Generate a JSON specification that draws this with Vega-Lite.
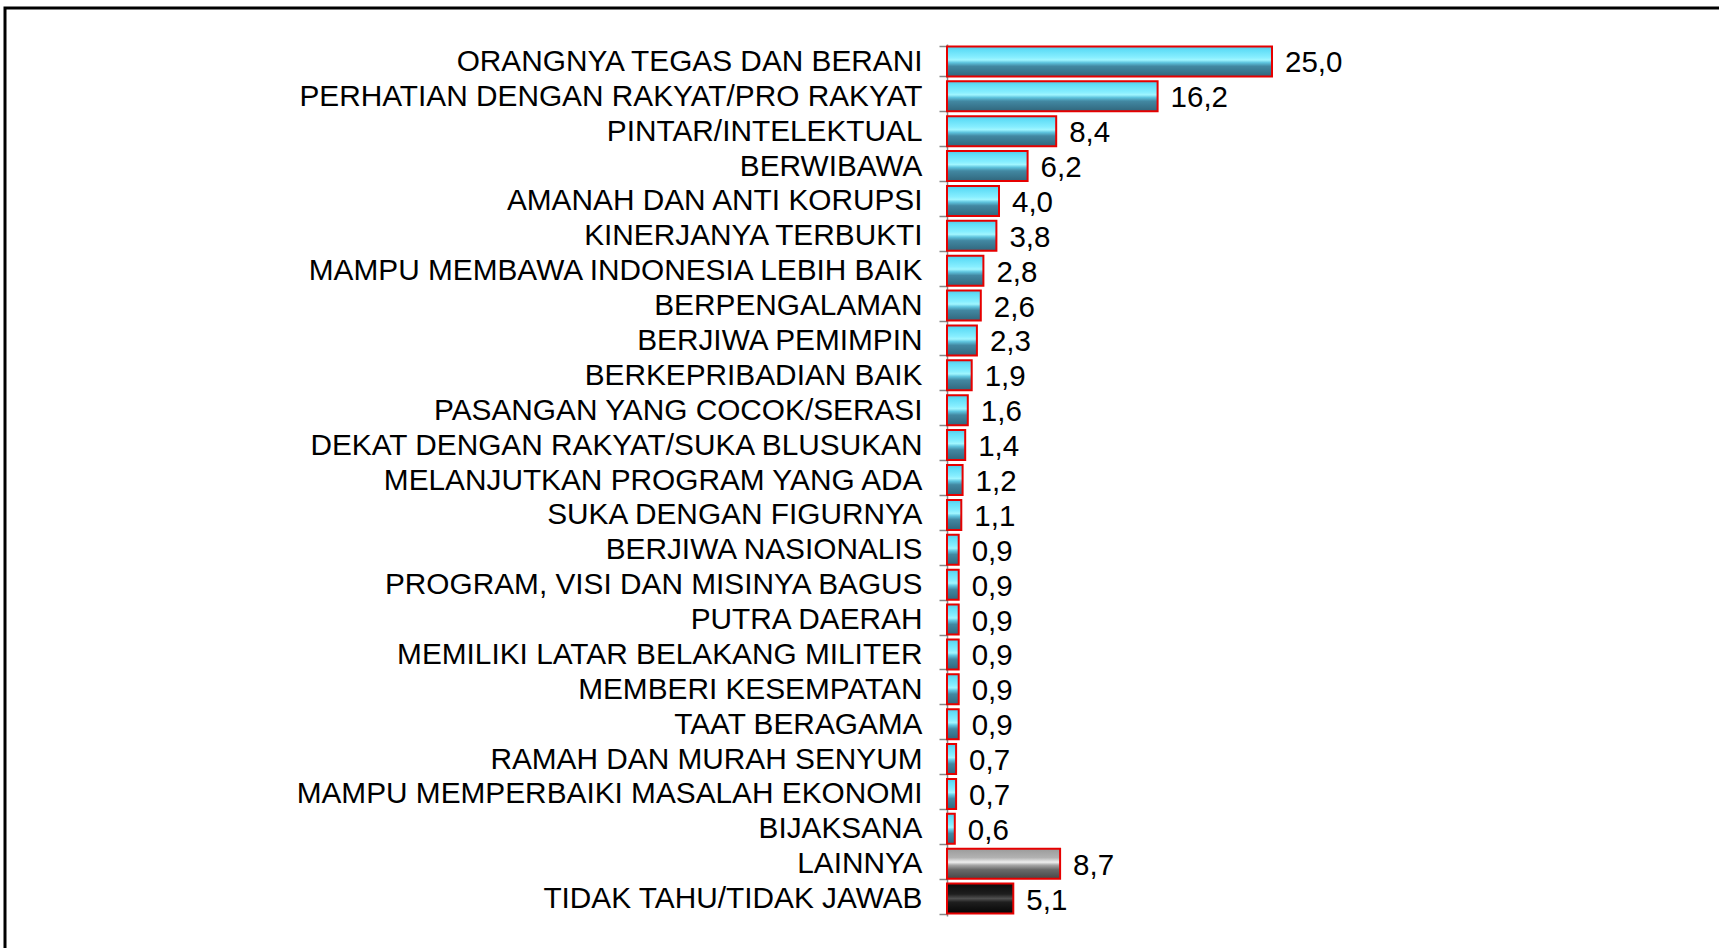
{
  "$schema": "https://vega.github.io/schema/vega-lite/v6.json",
  "autosize": "none",
  "width": 1717,
  "height": 943,
  "padding": {"left": 5, "top": 8, "right": -3, "bottom": -3},
  "background": "white",
  "config": {
    "view": {"stroke": "black", "strokeWidth": 3},
    "font": "Liberation Sans",
    "locale": {"number": {"decimal": ",", "thousands": ".", "grouping": [3], "currency": ["", ""]}}
  },
  "data": {
    "values": [
      {"kategori": "ORANGNYA TEGAS DAN BERANI", "nilai": 25.0, "grup": "utama"},
      {"kategori": "PERHATIAN DENGAN RAKYAT/PRO RAKYAT", "nilai": 16.2, "grup": "utama"},
      {"kategori": "PINTAR/INTELEKTUAL", "nilai": 8.4, "grup": "utama"},
      {"kategori": "BERWIBAWA", "nilai": 6.2, "grup": "utama"},
      {"kategori": "AMANAH DAN ANTI KORUPSI", "nilai": 4.0, "grup": "utama"},
      {"kategori": "KINERJANYA TERBUKTI", "nilai": 3.8, "grup": "utama"},
      {"kategori": "MAMPU MEMBAWA INDONESIA LEBIH BAIK", "nilai": 2.8, "grup": "utama"},
      {"kategori": "BERPENGALAMAN", "nilai": 2.6, "grup": "utama"},
      {"kategori": "BERJIWA PEMIMPIN", "nilai": 2.3, "grup": "utama"},
      {"kategori": "BERKEPRIBADIAN BAIK", "nilai": 1.9, "grup": "utama"},
      {"kategori": "PASANGAN YANG COCOK/SERASI", "nilai": 1.6, "grup": "utama"},
      {"kategori": "DEKAT DENGAN RAKYAT/SUKA BLUSUKAN", "nilai": 1.4, "grup": "utama"},
      {"kategori": "MELANJUTKAN PROGRAM YANG ADA", "nilai": 1.2, "grup": "utama"},
      {"kategori": "SUKA DENGAN FIGURNYA", "nilai": 1.1, "grup": "utama"},
      {"kategori": "BERJIWA NASIONALIS", "nilai": 0.9, "grup": "utama"},
      {"kategori": "PROGRAM, VISI DAN MISINYA BAGUS", "nilai": 0.9, "grup": "utama"},
      {"kategori": "PUTRA DAERAH", "nilai": 0.9, "grup": "utama"},
      {"kategori": "MEMILIKI LATAR BELAKANG MILITER", "nilai": 0.9, "grup": "utama"},
      {"kategori": "MEMBERI KESEMPATAN", "nilai": 0.9, "grup": "utama"},
      {"kategori": "TAAT BERAGAMA", "nilai": 0.9, "grup": "utama"},
      {"kategori": "RAMAH DAN MURAH SENYUM", "nilai": 0.7, "grup": "utama"},
      {"kategori": "MAMPU MEMPERBAIKI MASALAH EKONOMI", "nilai": 0.7, "grup": "utama"},
      {"kategori": "BIJAKSANA", "nilai": 0.6, "grup": "utama"},
      {"kategori": "LAINNYA", "nilai": 8.7, "grup": "lain"},
      {"kategori": "TIDAK TAHU/TIDAK JAWAB", "nilai": 5.1, "grup": "tt"}
    ]
  },
  "encoding": {
    "y": {
      "field": "kategori", "type": "nominal", "sort": null,
      "scale": {"range": [36, 908], "paddingInner": 0.14, "paddingOuter": 0.07},
      "axis": {
        "title": null, "offset": -942, "tickSize": 8, "tickBand": "extent",
        "tickColor": "#868686", "domainColor": "#868686", "tickWidth": 1.5, "domainWidth": 1.5,
        "labelPadding": 17, "labelFontSize": 29.8, "labelFont": "Liberation Sans",
        "labelColor": "black", "labelLimit": 0
      }
    },
    "x": {
      "field": "nilai", "type": "quantitative",
      "scale": {"domain": [0, 30], "range": [942, 1332], "nice": false, "zero": true},
      "axis": null
    }
  },
  "layer": [
    {
      "transform": [{"filter": "datum.grup === 'utama'"}],
      "mark": {
        "type": "bar", "stroke": "#e60000", "strokeWidth": 2,
        "color": {"gradient": "linear", "x1": 0, "y1": 0, "x2": 0, "y2": 1,
          "stops": [
            {"offset": 0, "color": "#58c8e6"},
            {"offset": 0.12, "color": "#62def7"},
            {"offset": 0.36, "color": "#86eeff"},
            {"offset": 0.45, "color": "#a0f6ff"},
            {"offset": 0.54, "color": "#5ec4de"},
            {"offset": 0.66, "color": "#4288a2"},
            {"offset": 1, "color": "#30667c"}
          ]}
      }
    },
    {
      "transform": [{"filter": "datum.grup === 'lain'"}],
      "mark": {
        "type": "bar", "stroke": "#e60000", "strokeWidth": 2,
        "color": {"gradient": "linear", "x1": 0, "y1": 0, "x2": 0, "y2": 1,
          "stops": [
            {"offset": 0, "color": "#9a9a9a"},
            {"offset": 0.3, "color": "#b2b2b2"},
            {"offset": 0.45, "color": "#efefef"},
            {"offset": 0.55, "color": "#a6a6a6"},
            {"offset": 0.7, "color": "#6a6a6a"},
            {"offset": 1, "color": "#474747"}
          ]}
      }
    },
    {
      "transform": [{"filter": "datum.grup === 'tt'"}],
      "mark": {
        "type": "bar", "stroke": "#e60000", "strokeWidth": 2,
        "color": {"gradient": "linear", "x1": 0, "y1": 0, "x2": 0, "y2": 1,
          "stops": [
            {"offset": 0, "color": "#0a0a0a"},
            {"offset": 0.35, "color": "#1e1e1e"},
            {"offset": 0.5, "color": "#505050"},
            {"offset": 0.62, "color": "#1e1e1e"},
            {"offset": 1, "color": "#050505"}
          ]}
      }
    },
    {
      "mark": {"type": "text", "align": "left", "baseline": "middle", "dx": 13, "dy": 2, "fontSize": 29.5, "font": "Liberation Sans", "color": "black"},
      "encoding": {"text": {"field": "nilai", "type": "quantitative", "format": ".1f"}}
    }
  ]
}
